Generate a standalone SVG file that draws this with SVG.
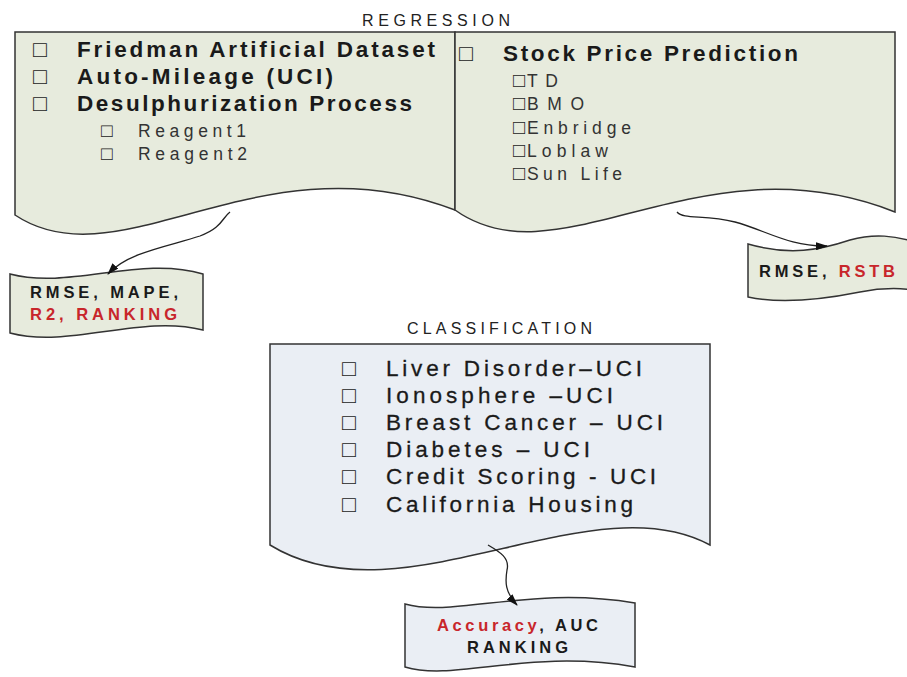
<svg xmlns="http://www.w3.org/2000/svg" width="907" height="677" viewBox="0 0 907 677">
<style>
.bg{fill:#ffffff}
.reg{fill:#e7ebdd;stroke:#333;stroke-width:1.5}
.cls{fill:#eaeef4;stroke:#333;stroke-width:1.5}
.t{font-family:"Liberation Sans",Arial,"DejaVu Sans",sans-serif;fill:#1a1a1a}
.title{font-size:16px;fill:#222}
.main{font-size:22.5px;font-weight:bold}
.sub{font-size:17.5px;fill:#333}
.item{font-size:22.5px;stroke:#1a1a1a;stroke-width:0.3}
.lbl{font-size:16.5px;font-weight:bold}
.red{fill:#c8262b}
.bul{font-family:"Liberation Sans","DejaVu Sans",sans-serif;fill:#222}
.bm{font-size:23px}
.conn{fill:none;stroke:#222;stroke-width:1.3}
</style>
<defs>
<marker id="ah" viewBox="0 0 12 8" refX="11" refY="4" markerWidth="12" markerHeight="8" markerUnits="userSpaceOnUse" orient="auto">
<path d="M0,0 L12,4 L0,8 Z" fill="#111"/>
</marker>
</defs>
<rect class="bg" x="0" y="0" width="907" height="677"/>

<g id="regression-title">
<text class="t title" x="362" y="26" textLength="148" lengthAdjust="spacing">REGRESSION</text>
</g>

<g id="regression-left">
<path class="reg" d="M15,32 L455,32 L455,210 C260,135 120,285 15,215 Z"/>
<text class="bul bm" x="33" y="57">□</text>
<text class="bul bm" x="33" y="84">□</text>
<text class="bul bm" x="33" y="111">□</text>
<text class="t main" x="77" y="57" textLength="358" lengthAdjust="spacing">Friedman Artificial Dataset</text>
<text class="t main" x="77" y="84" textLength="256" lengthAdjust="spacing">Auto-Mileage (UCI)</text>
<text class="t main" x="77" y="111" textLength="335" lengthAdjust="spacing">Desulphurization Process</text>
<text class="bul" x="101" y="137" font-size="19">□</text>
<text class="bul" x="101" y="160" font-size="19">□</text>
<text class="t sub" x="138" y="137" textLength="108" lengthAdjust="spacing">Reagent1</text>
<text class="t sub" x="138" y="160" textLength="109" lengthAdjust="spacing">Reagent2</text>
</g>

<g id="regression-right">
<path class="reg" d="M455,32 L895,32 L895,212 C700,135 560,285 455,210 Z"/>
<text class="bul bm" x="459" y="61">□</text>
<text class="t main" x="503" y="61" textLength="295" lengthAdjust="spacing">Stock Price Prediction</text>
<text class="t sub" x="513" y="87"><tspan class="bul" font-size="20">□</tspan><tspan x="527" textLength="31" lengthAdjust="spacing">TD</tspan></text>
<text class="t sub" x="513" y="110"><tspan class="bul" font-size="20">□</tspan><tspan x="527" textLength="57" lengthAdjust="spacing">BMO</tspan></text>
<text class="t sub" x="513" y="134"><tspan class="bul" font-size="20">□</tspan><tspan x="527" textLength="104" lengthAdjust="spacing">Enbridge</tspan></text>
<text class="t sub" x="513" y="157"><tspan class="bul" font-size="20">□</tspan><tspan x="527" textLength="81" lengthAdjust="spacing">Loblaw</tspan></text>
<text class="t sub" x="513" y="180"><tspan class="bul" font-size="20">□</tspan><tspan x="527" textLength="95" lengthAdjust="spacing">Sun Life</tspan></text>
</g>

<g id="metrics-left">
<path class="reg" d="M10,274 C70,290 140,255 203,274 L203,330 C140,314 70,349 10,333 Z"/>
<text class="t lbl" x="30" y="298" textLength="148" lengthAdjust="spacing">RMSE, MAPE,</text>
<text class="t lbl red" x="30" y="320" textLength="147" lengthAdjust="spacing">R2, RANKING</text>
</g>

<g id="metrics-right">
<path class="reg" d="M748,244 C790,256 820,250 850,240 C875,233 895,236 915,242 L915,290 C900,288 880,288 860,292 C820,300 780,304 748,297 Z"/>
<text class="t lbl" x="759" y="277" textLength="136" lengthAdjust="spacing">RMSE, <tspan class="red">RSTB</tspan></text>
</g>

<g id="classification-title">
<text class="t title" x="407" y="334" textLength="185" lengthAdjust="spacing">CLASSIFICATION</text>
</g>

<g id="classification">
<path class="cls" d="M270,344 L710,344 L710,545 C590,480 400,625 270,545 Z"/>
<text class="bul bm" x="342" y="376">□</text>
<text class="bul bm" x="342" y="403">□</text>
<text class="bul bm" x="342" y="430">□</text>
<text class="bul bm" x="342" y="457">□</text>
<text class="bul bm" x="342" y="484">□</text>
<text class="bul bm" x="342" y="512">□</text>
<text class="t item" x="386" y="376" textLength="256" lengthAdjust="spacing">Liver Disorder–UCI</text>
<text class="t item" x="386" y="403" textLength="227" lengthAdjust="spacing">Ionosphere –UCI</text>
<text class="t item" x="386" y="430" textLength="277" lengthAdjust="spacing">Breast Cancer – UCI</text>
<text class="t item" x="386" y="457" textLength="204" lengthAdjust="spacing">Diabetes – UCI</text>
<text class="t item" x="386" y="484" textLength="270" lengthAdjust="spacing">Credit Scoring - UCI</text>
<text class="t item" x="386" y="512" textLength="247" lengthAdjust="spacing">California Housing</text>
</g>

<g id="metrics-bottom">
<path class="cls" d="M405,604 C455,618 530,585 635,603 L635,667 C530,648 455,682 405,667 Z"/>
<text class="t lbl" x="437" y="631" textLength="161" lengthAdjust="spacing"><tspan class="red">Accuracy</tspan>, AUC</text>
<text class="t lbl" x="467" y="653" textLength="101" lengthAdjust="spacing">RANKING</text>
</g>

<g id="connectors">
<path class="conn" marker-end="url(#ah)" d="M230,212 C222,218 222,228 200,236 C170,246 128,252 108,274"/>
<path class="conn" marker-end="url(#ah)" d="M677,212 C684,220 705,214 735,222 C765,230 790,247 827,246"/>
<path class="conn" marker-end="url(#ah)" d="M488,545 C500,552 510,558 507,570 C505,582 505,592 517,605"/>
</g>
</svg>
